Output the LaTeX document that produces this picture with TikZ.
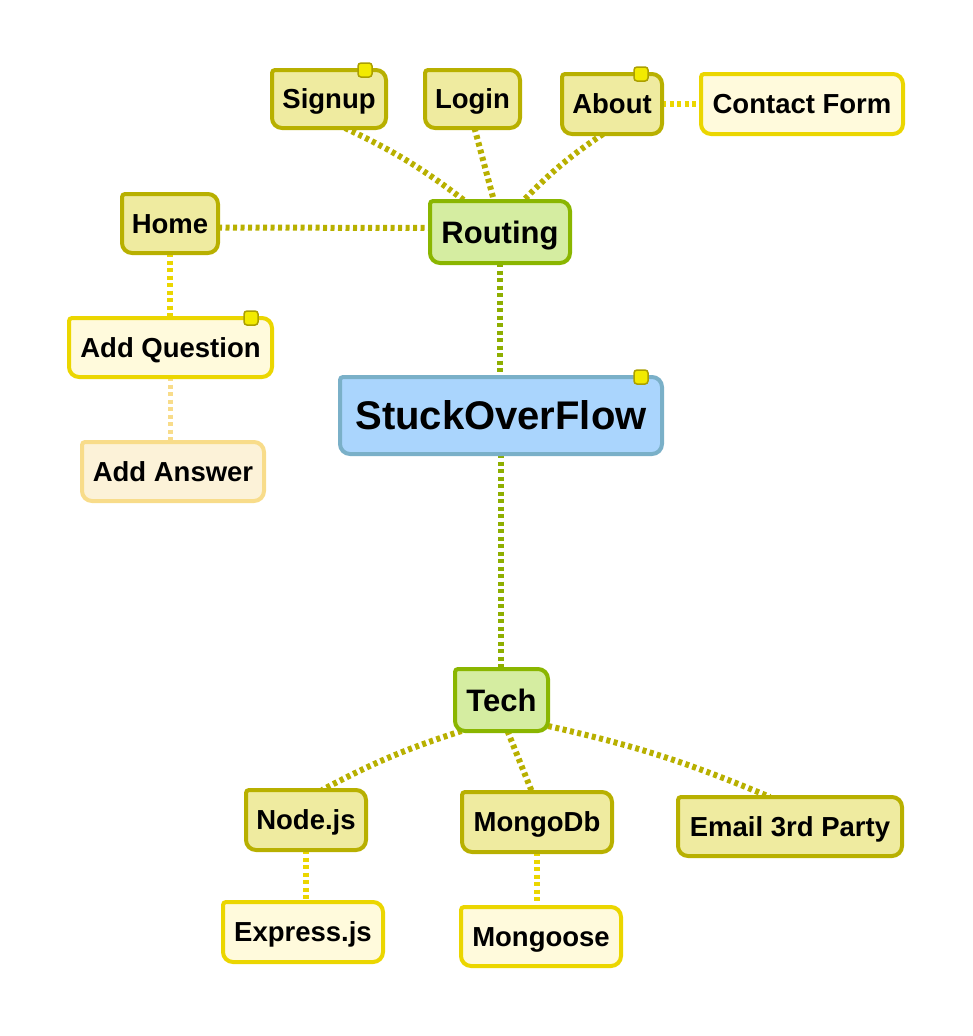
\documentclass[tikz,border=0pt]{standalone}
\usepackage{fontspec}
\setmainfont{Liberation Sans}
\usetikzlibrary{calc}
\pgfdeclarelayer{edges}
\pgfdeclarelayer{boxes}
\pgfsetlayers{edges,boxes,main}
\definecolor{lvfill}{HTML}{EFEBA0}
\definecolor{lvline}{HTML}{B8B000}
\definecolor{grfill}{HTML}{D5EDA1}
\definecolor{grline}{HTML}{8AB600}
\definecolor{ltfill}{HTML}{FFFADC}
\definecolor{ltline}{HTML}{EBD600}
\definecolor{anfill}{HTML}{FCF2D8}
\definecolor{anline}{HTML}{F8DC8A}
\definecolor{rtfill}{HTML}{AAD5FD}
\definecolor{rtline}{HTML}{7AB0C8}
\definecolor{mkfill}{HTML}{F2EA00}
\definecolor{mkline}{HTML}{AB9F00}
\definecolor{lkgreen}{HTML}{8EAE00}
\tikzset{
  txt/.style={inner sep=0pt,outer sep=0pt,text depth=0pt,text height=19.7pt,
    font=\bfseries\fontsize{27.5}{30}\selectfont},
  bigtxt/.style={text height=22.2pt,font=\bfseries\fontsize{31}{34}\selectfont},
  roottxt/.style={text height=28.6pt,font=\bfseries\fontsize{40}{44}\selectfont},
  lvbox/.style={fill=lvfill,draw=lvline,line width=4pt},
  grbox/.style={fill=grfill,draw=grline,line width=4pt},
  ltbox/.style={fill=ltfill,draw=ltline,line width=4pt},
  anbox/.style={fill=anfill,draw=anline,line width=4pt},
  rtbox/.style={fill=rtfill,draw=rtline,line width=4pt},
  markbox/.style={fill=mkfill,draw=mkline,line width=1.5pt,rounded corners=3pt,
    minimum size=14pt,inner sep=0pt},
  link/.style={line width=6pt,dash pattern=on 4pt off 3.5pt},
  lkg/.style={link,draw=lkgreen},
  lko/.style={link,draw=lvline},
  lky/.style={link,draw=ltline,line width=5.5pt},
  lka/.style={link,draw=anline,line width=5pt},
}
% name, centre, width, height, text style, box style, text
\newcommand\mmnode[7]{%
  \node[txt,#5,minimum width=#3pt,minimum height=#4pt] (#1) at (#2) {#7};
  \begin{pgfonlayer}{boxes}
  \draw[#6] ([xshift=3pt]#1.north west) -- ([xshift=-10pt]#1.north east)
     arc[start angle=90,end angle=0,radius=10pt]
     -- ([yshift=10pt]#1.south east)
     arc[start angle=0,end angle=-90,radius=10pt]
     -- ([xshift=10pt]#1.south west)
     arc[start angle=270,end angle=180,radius=10pt]
     -- ([yshift=-3pt]#1.north west)
     arc[start angle=180,end angle=90,radius=3pt]
     -- cycle;
  \end{pgfonlayer}}
\newcommand\mmmark[1]{%
  \node[markbox] (#1mark) at ([xshift=-21pt]#1.north east) {};}
\begin{document}
\begin{tikzpicture}[x=1pt,y=-1pt]
\useasboundingbox (0,0) rectangle (972,1036);
\mmnode{signup}{329,99}{114}{58}{}{lvbox}{Signup}
\mmnode{login}{472.5,99}{95}{58}{}{lvbox}{Login}
\mmnode{about}{612,104}{100}{60}{}{lvbox}{About}
\mmnode{contact}{802,104}{202}{60}{}{ltbox}{Contact Form}
\mmnode{routing}{500,232}{140}{62}{bigtxt}{grbox}{Routing}
\mmnode{home}{170,223.5}{96}{59}{}{lvbox}{Home}
\mmnode{addq}{170.5,347.5}{203}{59}{}{ltbox}{Add Question}
\mmnode{adda}{173,471.5}{182}{59}{}{anbox}{Add Answer}
\mmnode{stuck}{501,415.5}{322}{77}{roottxt}{rtbox}{StuckOverFlow}
\mmnode{tech}{501.5,700}{93}{62}{bigtxt}{grbox}{Tech}
\mmnode{nodejs}{306,820}{120}{60}{}{lvbox}{Node.js}
\mmnode{mongo}{537,822}{150}{60}{}{lvbox}{MongoDb}
\mmnode{email}{790,826.5}{224}{59}{}{lvbox}{Email 3rd Party}
\mmnode{express}{303,932}{160}{60}{}{ltbox}{Express.js}
\mmnode{mongoose}{541,936.5}{160}{59}{}{ltbox}{Mongoose}
\mmmark{signup}
\mmmark{about}
\mmmark{addq}
\mmmark{stuck}
\begin{pgfonlayer}{edges}
\draw[lkg] (routing.south) -- (routing.south |- stuck.north);
\draw[lkg] (stuck.south) -- (stuck.south |- tech.north);
\draw[lko] ([yshift=-4pt]home.east) -- ([yshift=4pt]routing.west);
\draw[lko] ([xshift=16pt]signup.south) to[bend left=6] ([xshift=-35pt]routing.north);
\draw[lko] ([xshift=2pt]login.south) -- ([xshift=-6pt]routing.north);
\draw[lko] ([xshift=-9pt]about.south) to[bend right=6] ([xshift=23pt]routing.north);
\draw[lky] (about.east) -- (contact.west);
\draw[lky] (home.south) -- (home.south |- addq.north);
\draw[lka] (addq.south) -- (addq.south |- adda.north);
\draw[lko] ([xshift=-40pt]tech.south) to[bend right=5] ([xshift=16pt]nodejs.north);
\draw[lko] ([xshift=6pt]tech.south) -- ([xshift=-5pt]mongo.north);
\draw[lko] ([yshift=5pt]tech.south east) to[bend left=5] ([xshift=-20pt]email.north);
\draw[lky] (nodejs.south) -- (nodejs.south |- express.north);
\draw[lky] (mongo.south) -- (mongo.south |- mongoose.north);
\end{pgfonlayer}
\end{tikzpicture}
\end{document}
